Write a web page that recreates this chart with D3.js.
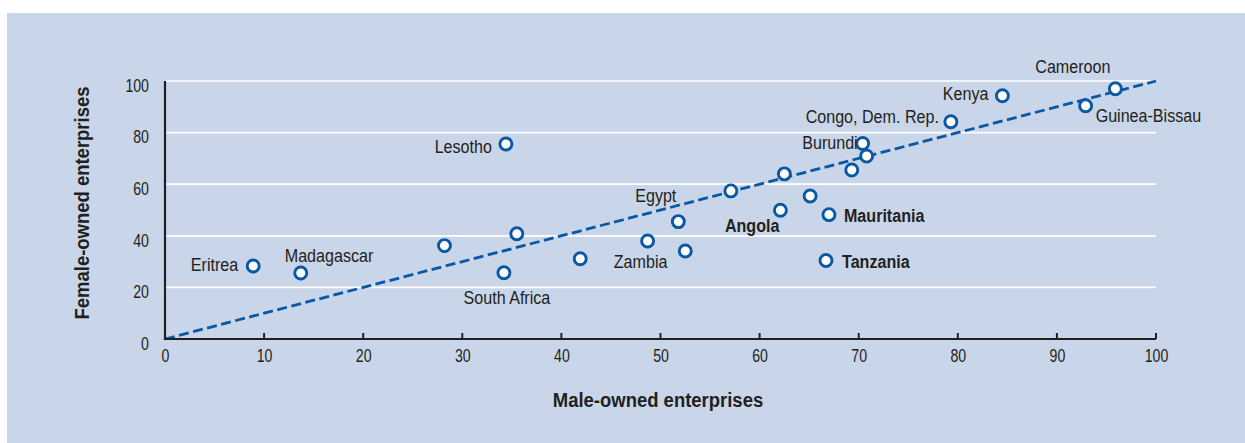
<!DOCTYPE html>
<html>
<head>
<meta charset="utf-8">
<script src="https://cdn.jsdelivr.net/npm/d3@7/dist/d3.min.js"></script>
<style>
  html, body { margin: 0; padding: 0; background: #ffffff; }
  svg { display: block; }
  text { font-family: "Liberation Sans", Arial, sans-serif; fill: #231f20; }
</style>
</head>
<body>
<svg id="chart" width="1245" height="443"></svg>
<script>
// ---- Data ----
const countries = ["Eritrea", "Madagascar", "", "Lesotho", "", "South Africa", "", "Zambia", "Egypt", "", "", "",
  "Angola", "", "Mauritania", "Tanzania", "Burundi", "", "", "Congo, Dem. Rep.", "Kenya", "Guinea-Bissau", "Cameroon"];
const maleValues = [8.9, 13.7, 28.2, 34.4, 35.5, 34.2, 41.9, 48.7, 51.8, 52.5, 57.1, 62.5,
  62.1, 65.1, 67.0, 66.7, 70.4, 70.8, 69.3, 79.3, 84.5, 92.9, 95.9];
const femaleValues = [28.3, 25.6, 36.2, 75.6, 40.8, 25.7, 31.1, 38.0, 45.5, 34.1, 57.4, 64.0,
  49.9, 55.4, 48.2, 30.4, 75.8, 70.9, 65.5, 84.2, 94.3, 90.4, 97.0];
const boldLabels = ["Angola", "Mauritania", "Tanzania"];
const xTicks = [0, 10, 20, 30, 40, 50, 60, 70, 80, 90, 100];
const yTicks = [0, 20, 40, 60, 80, 100];
const xTitle = "Male-owned enterprises";
const yTitle = "Female-owned enterprises";

// ---- Label placement (layout only) ----
const labelLayout = {
  "Eritrea":          { dx: -15, dy: 5,   anchor: "end" },
  "Madagascar":       { dx: -16, dy: -11, anchor: "start" },
  "Lesotho":          { dx: -14, dy: 9,   anchor: "end" },
  "South Africa":     { dx: 3,   dy: 31,  anchor: "middle" },
  "Zambia":           { dx: -7,  dy: 27,  anchor: "middle" },
  "Egypt":            { dx: -2,  dy: -20, anchor: "end" },
  "Angola":           { dx: -1,  dy: 22,  anchor: "end" },
  "Mauritania":       { dx: 15,  dy: 7,   anchor: "start" },
  "Tanzania":         { dx: 16,  dy: 7,   anchor: "start" },
  "Burundi":          { dx: -5,  dy: 6,   anchor: "end" },
  "Congo, Dem. Rep.": { dx: -12, dy: 1,   anchor: "end" },
  "Kenya":            { dx: -14, dy: 4,   anchor: "end" },
  "Guinea-Bissau":    { dx: 10,  dy: 16,  anchor: "start" },
  "Cameroon":         { dx: -5,  dy: -16, anchor: "end" }
};

const points = countries.map((c, i) => ({ name: c, x: maleValues[i], y: femaleValues[i] }));

const svg = d3.select("#chart");
const W = 1245, H = 443;
const blue = "#0a58a3";
const dark = "#231f20";
const tickScale = 0.8, labelScale = 0.87, titleScale = 0.88;

// panel
svg.append("rect").attr("x", 7).attr("y", 13).attr("width", W - 7).attr("height", H - 13).attr("fill", "#c9d5e8");

const plot = { left: 165, right: 1156, top: 81, bottom: 339 };
const x = d3.scaleLinear().domain([0, 100]).range([plot.left, plot.right]);
const y = d3.scaleLinear().domain([0, 100]).range([plot.bottom, plot.top]);

// gridlines
svg.append("g").selectAll("line").data(yTicks.filter(d => d > 0)).join("line")
  .attr("x1", x(0)).attr("x2", x(100))
  .attr("y1", d => y(d)).attr("y2", d => y(d))
  .attr("stroke", "#ffffff").attr("stroke-width", 1.7);

// diagonal dashed line
svg.append("line")
  .attr("x1", x(0)).attr("y1", y(0)).attr("x2", x(100)).attr("y2", y(100))
  .attr("stroke", blue).attr("stroke-width", 2.8).attr("stroke-dasharray", "10,4.5");

// x axis
const xAxis = d3.axisBottom(x).tickValues(xTicks).tickSize(0).tickFormat(d3.format("d"));
const gx = svg.append("g").attr("transform", `translate(0,${plot.bottom})`).call(xAxis);
gx.select(".domain").remove();
gx.selectAll("text")
  .attr("font-size", 17.7).attr("fill", dark)
  .attr("font-family", "'Liberation Sans', Arial, sans-serif")
  .attr("x", 0).attr("y", 23.5).attr("dy", null)
  .attr("transform", `scale(${tickScale},1)`);
// tick marks upward
svg.append("g").selectAll("line").data(xTicks.filter(d => d > 0)).join("line")
  .attr("x1", d => x(d)).attr("x2", d => x(d))
  .attr("y1", plot.bottom).attr("y2", plot.bottom - 6)
  .attr("stroke", dark).attr("stroke-width", 2);

// y axis
const yAxis = d3.axisLeft(y).tickValues(yTicks).tickSize(0).tickFormat(d3.format("d"));
const gy = svg.append("g").attr("transform", `translate(${plot.left},0)`).call(yAxis);
gy.select(".domain").remove();
gy.selectAll("text")
  .attr("font-size", 17.7).attr("fill", dark)
  .attr("font-family", "'Liberation Sans', Arial, sans-serif")
  .attr("x", -16 / tickScale).attr("y", 10.3).attr("dy", null)
  .attr("transform", `scale(${tickScale},1)`);

// axis lines
svg.append("line").attr("x1", x(0)).attr("x2", x(0)).attr("y1", y(100)).attr("y2", y(0) + 1)
  .attr("stroke", dark).attr("stroke-width", 2.2);
svg.append("line").attr("x1", x(0) - 1).attr("x2", x(100)).attr("y1", y(0)).attr("y2", y(0))
  .attr("stroke", dark).attr("stroke-width", 2.2);

// points
svg.append("g").selectAll("circle").data(points).join("circle")
  .attr("cx", d => x(d.x)).attr("cy", d => y(d.y)).attr("r", 6)
  .attr("fill", "#ffffff").attr("stroke", blue).attr("stroke-width", 2.9);

// labels
svg.append("g").selectAll("text").data(points.filter(d => d.name && labelLayout[d.name])).join("text")
  .attr("transform", d => `translate(${x(d.x) + labelLayout[d.name].dx},${y(d.y) + labelLayout[d.name].dy}) scale(${labelScale},1)`)
  .attr("text-anchor", d => labelLayout[d.name].anchor)
  .attr("font-size", 18.5)
  .attr("font-weight", d => boldLabels.includes(d.name) ? "bold" : "normal")
  .text(d => d.name);

// axis titles
svg.append("text").attr("transform", `translate(658,407) scale(${titleScale},1)`).attr("text-anchor", "middle")
  .attr("font-size", 21).attr("font-weight", "bold").text(xTitle);
svg.append("text").attr("transform", `translate(89,203) rotate(-90) scale(${titleScale},1)`).attr("text-anchor", "middle")
  .attr("font-size", 21).attr("font-weight", "bold").text(yTitle);
</script>
</body>
</html>
